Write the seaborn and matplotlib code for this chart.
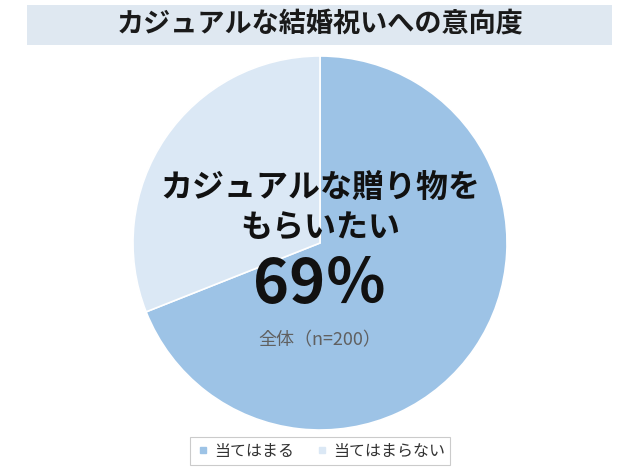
import matplotlib
matplotlib.use("Agg")
import matplotlib.pyplot as plt
import seaborn as sns
from matplotlib.patches import Rectangle
from matplotlib.lines import Line2D

labels = ["当てはまる", "当てはまらない"]
values = [69, 31]
colors = ["#9dc3e6", "#dbe8f5"]
title = "カジュアルな結婚祝いへの意向度"
center_text = "カジュアルな贈り物を\nもらいたい"
share_text = "69％"
base_text = "全体（n=200）"

sns.set_theme(style="white")
plt.rcParams["font.family"] = ["Noto Sans CJK JP", "DejaVu Sans"]

W, H = 640, 473
fig = plt.figure(figsize=(W / 100, H / 100), dpi=100)
fig.patch.set_facecolor("white")

# title band
fig.patches.append(Rectangle((27 / W, 1 - 45 / H), 585 / W, 40 / H,
                             transform=fig.transFigure, facecolor="#dfe8f1",
                             edgecolor="none", zorder=0))
fig.text(320 / W, 1 - 24 / H, title, ha="center", va="center",
         fontsize=19.5, fontweight="bold", color="#1a1a1a")

# pie
cx, cy, r = 320, 243, 187
ax = fig.add_axes([(cx - r) / W, (H - cy - r) / H, 2 * r / W, 2 * r / H])
ax.pie(values, colors=colors, startangle=90, counterclock=False, radius=1,
       wedgeprops=dict(edgecolor="white", linewidth=1.2))
ax.set_xlim(-1, 1)
ax.set_ylim(-1, 1)
ax.set_aspect("equal")
ax.axis("off")

fig.text(cx / W, 1 - 208 / H, center_text, ha="center", va="center",
         fontsize=23, fontweight="bold", color="#111111", linespacing=1.35)
fig.text(cx / W, 1 - 285 / H, share_text, ha="center", va="center",
         fontsize=44, fontweight="bold", color="#111111")
fig.text(cx / W, 1 - 340 / H, base_text, ha="center", va="center",
         fontsize=13, color="#606060")

handles = [Line2D([0], [0], marker="s", linestyle="none", markersize=5,
                  markerfacecolor=c, markeredgecolor=c) for c in colors]
leg = fig.legend(handles, labels, loc="center", ncol=2,
                 bbox_to_anchor=(320 / W, 1 - 451 / H), fontsize=11.5,
                 frameon=True, fancybox=False, handletextpad=0.2,
                 columnspacing=1.2, handlelength=1.0, borderpad=0.35)
leg.get_frame().set_edgecolor("#bfbfbf")
leg.get_frame().set_linewidth(0.8)
for t in leg.get_texts():
    t.set_color("#333333")

fig.savefig("out.png", dpi=100)
